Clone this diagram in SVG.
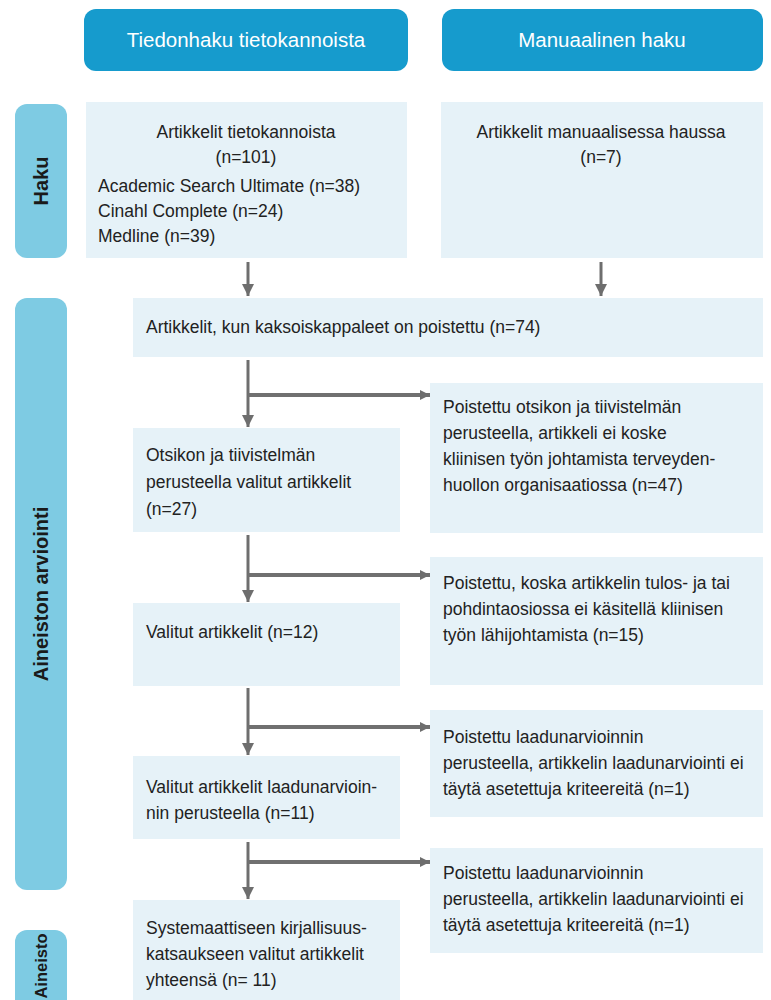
<svg xmlns="http://www.w3.org/2000/svg" width="771" height="1000" viewBox="0 0 771 1000">
<defs>
<style>
.hdr{fill:#169bcd}
.hdrt{font-family:"Liberation Sans",Arial,sans-serif;font-size:20.5px;fill:#ffffff;text-anchor:middle}
.side{fill:#7ecbe3}
.sidet{font-family:"Liberation Sans",Arial,sans-serif;font-size:20px;font-weight:bold;fill:#1a1a1a;text-anchor:middle}
.box{fill:#e6f2f8}
.t{font-family:"Liberation Sans",Arial,sans-serif;font-size:17.5px;fill:#222222}
.c{text-anchor:middle}
.ln{stroke:#6e6e6e;stroke-width:3;fill:none}
.br{stroke:#707070;stroke-width:4;fill:none}
</style>
<marker id="ah" markerUnits="userSpaceOnUse" markerWidth="14" markerHeight="14" refX="12" refY="6" orient="auto">
<path d="M0,0 L12,6 L0,12 Z" fill="#6e6e6e"/>
</marker>
<marker id="ahs" markerUnits="userSpaceOnUse" markerWidth="14" markerHeight="14" refX="10" refY="5" orient="auto">
<path d="M0,0 L10,5 L0,10 Z" fill="#6e6e6e"/>
</marker>
</defs>
<rect width="771" height="1000" fill="#ffffff"/>

<g id="header-tietokannat">
<rect class="hdr" x="84" y="9" width="324" height="62" rx="12"/>
<text class="hdrt" x="246" y="47">Tiedonhaku tietokannoista</text>
</g>
<g id="header-manuaalinen">
<rect class="hdr" x="442" y="9" width="321" height="62" rx="12"/>
<text class="hdrt" x="602" y="47">Manuaalinen haku</text>
</g>

<g id="label-haku">
<rect class="side" x="15" y="104" width="52" height="154" rx="12"/>
<text class="sidet" transform="translate(48,181) rotate(-90)">Haku</text>
</g>
<g id="label-arviointi">
<rect class="side" x="15" y="298" width="52" height="592" rx="12"/>
<text class="sidet" transform="translate(48,594) rotate(-90)">Aineiston arviointi</text>
</g>
<g id="label-aineisto">
<rect class="side" x="15" y="930" width="52" height="90" rx="12"/>
<text class="sidet" style="font-size:16.5px" transform="translate(47,966) rotate(-90)">Aineisto</text>
</g>

<g id="box-tietokannat">
<rect class="box" x="86" y="102" width="321" height="156"/>
<text class="t c" x="246" y="138">Artikkelit tietokannoista</text>
<text class="t c" x="246" y="163">(n=101)</text>
<text class="t" x="98" y="192">Academic Search Ultimate (n=38)</text>
<text class="t" x="98" y="217">Cinahl Complete (n=24)</text>
<text class="t" x="98" y="242">Medline (n=39)</text>
</g>
<g id="box-manuaalinen">
<rect class="box" x="441" y="102" width="322" height="156"/>
<text class="t c" x="601" y="138">Artikkelit manuaalisessa haussa</text>
<text class="t c" x="601" y="163">(n=7)</text>
</g>

<g id="box-kaksoiskappaleet">
<rect class="box" x="133" y="298" width="630" height="59"/>
<text class="t" x="146" y="333">Artikkelit, kun kaksoiskappaleet on poistettu (n=74)</text>
</g>

<g id="box-otsikko">
<rect class="box" x="133" y="428" width="267" height="104"/>
<text class="t" x="146" y="461">Otsikon ja tiivistelmän</text>
<text class="t" x="146" y="488">perusteella valitut artikkelit</text>
<text class="t" x="146" y="515">(n=27)</text>
</g>
<g id="box-poistettu-otsikko">
<rect class="box" x="430" y="383" width="333" height="150"/>
<text class="t" x="443" y="413">Poistettu otsikon ja tiivistelmän</text>
<text class="t" x="443" y="439">perusteella, artikkeli ei koske</text>
<text class="t" x="443" y="465">kliinisen työn johtamista terveyden-</text>
<text class="t" x="443" y="491">huollon organisaatiossa (n=47)</text>
</g>

<g id="box-valitut">
<rect class="box" x="133" y="603" width="267" height="83"/>
<text class="t" x="146" y="638">Valitut artikkelit (n=12)</text>
</g>
<g id="box-poistettu-tulos">
<rect class="box" x="430" y="557" width="333" height="128"/>
<text class="t" x="443" y="589">Poistettu, koska artikkelin tulos- ja tai</text>
<text class="t" x="443" y="615">pohdintaosiossa ei käsitellä kliinisen</text>
<text class="t" x="443" y="641">työn lähijohtamista (n=15)</text>
</g>

<g id="box-laadunarviointi">
<rect class="box" x="133" y="756" width="267" height="83"/>
<text class="t" x="146" y="793">Valitut artikkelit laadunarvioin-</text>
<text class="t" x="146" y="819">nin perusteella (n=11)</text>
</g>
<g id="box-poistettu-laatu1">
<rect class="box" x="430" y="710" width="333" height="107"/>
<text class="t" x="443" y="743">Poistettu laadunarvioinnin</text>
<text class="t" x="443" y="769">perusteella, artikkelin laadunarviointi ei</text>
<text class="t" x="443" y="795">täytä asetettuja kriteereitä (n=1)</text>
</g>

<g id="box-yhteensa">
<rect class="box" x="133" y="900" width="267" height="110"/>
<text class="t" x="146" y="934">Systemaattiseen kirjallisuus-</text>
<text class="t" x="146" y="960">katsaukseen valitut artikkelit</text>
<text class="t" x="146" y="986">yhteensä (n= 11)</text>
</g>
<g id="box-poistettu-laatu2">
<rect class="box" x="430" y="848" width="333" height="105"/>
<text class="t" x="443" y="879">Poistettu laadunarvioinnin</text>
<text class="t" x="443" y="905">perusteella, artikkelin laadunarviointi ei</text>
<text class="t" x="443" y="931">täytä asetettuja kriteereitä (n=1)</text>
</g>

<g id="connectors">
<line class="ln" x1="248" y1="262" x2="248" y2="296" marker-end="url(#ah)"/>
<line class="ln" x1="601" y1="262" x2="601" y2="296" marker-end="url(#ah)"/>
<line class="ln" x1="248" y1="360" x2="248" y2="427" marker-end="url(#ah)"/>
<line class="br" x1="248" y1="395" x2="430" y2="395" marker-end="url(#ahs)"/>
<line class="ln" x1="248" y1="535" x2="248" y2="602" marker-end="url(#ah)"/>
<line class="br" x1="248" y1="575" x2="430" y2="575" marker-end="url(#ahs)"/>
<line class="ln" x1="248" y1="688" x2="248" y2="755" marker-end="url(#ah)"/>
<line class="br" x1="248" y1="727" x2="430" y2="727" marker-end="url(#ahs)"/>
<line class="ln" x1="248" y1="842" x2="248" y2="899" marker-end="url(#ah)"/>
<line class="br" x1="248" y1="862" x2="430" y2="862" marker-end="url(#ahs)"/>
</g>
</svg>
